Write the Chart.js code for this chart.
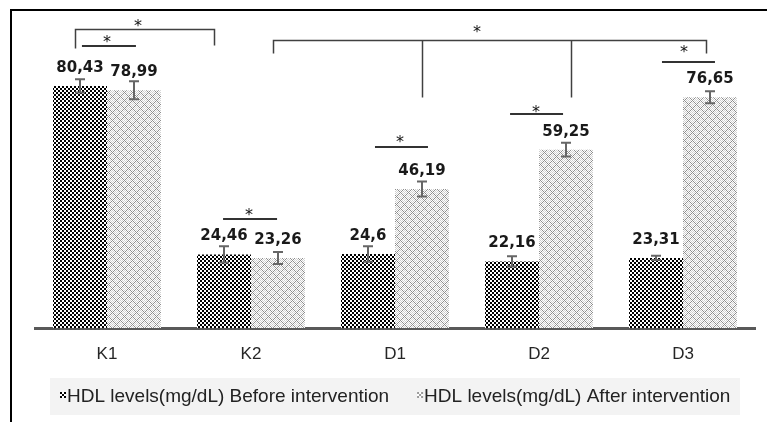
<!DOCTYPE html>
<html>
<head>
<meta charset="utf-8">
<script src="https://cdn.jsdelivr.net/npm/chart.js@4"></script>
<style>
  html, body { margin: 0; padding: 0; background: #fff; }
  #chart { display: block; }
</style>
</head>
<body>
<canvas id="chart" width="767" height="422"></canvas>
<script>
const categories = ['K1', 'K2', 'D1', 'D2', 'D3'];
const seriesNames = ['HDL levels(mg/dL) Before intervention', 'HDL levels(mg/dL) After intervention'];
const beforeValues = [80.43, 24.46, 24.6, 22.16, 23.31];
const afterValues = [78.99, 23.26, 46.19, 59.25, 76.65];
const beforeErrors = [2.2, 2.7, 2.6, 1.7, 0.7];
const afterErrors = [3.0, 2.0, 2.5, 2.3, 2.0];

// significance marks, x in category units, y in mg/dL
const sigBrackets = [
  [[-0.222, 93.0], [-0.222, 99.3], [0.743, 99.3], [0.743, 94.0]],
  [[1.153, 91.4], [1.153, 95.7], [4.16, 95.7], [4.16, 91.4]],
  [[2.19, 95.7], [2.19, 76.7]],
  [[3.222, 95.7], [3.222, 76.7]]
];
const sigLines = [
  [-0.174, 0.201, 93.7],
  [0.806, 1.181, 36.2],
  [1.861, 2.229, 60.1],
  [2.799, 3.167, 71.1],
  [3.854, 4.222, 88.4]
];
const sigStars = [
  [0.215, 101.7], [0.0, 96.3], [0.986, 38.9], [2.035, 63.1],
  [2.979, 73.1], [2.57, 99.7], [4.007, 93.0]
];

function makeChecker() {
  const c = document.createElement('canvas');
  c.width = 4; c.height = 4;
  const g = c.getContext('2d');
  g.fillStyle = '#fff';
  g.fillRect(0, 0, 4, 4);
  g.fillStyle = '#000';
  g.fillRect(0, 0, 2, 2);
  g.fillRect(2, 2, 2, 2);
  return c;
}

function makeHatch() {
  const c = document.createElement('canvas');
  c.width = 8; c.height = 8;
  const g = c.getContext('2d');
  for (let x = 0; x < 8; x++) {
    for (let y = 0; y < 8; y++) {
      const d1 = (x + y) % 8, d2 = (x - y + 8) % 8;
      if (d1 === 0 || d2 === 0) g.fillStyle = '#8f8f8f';
      else if ((x + y) % 2 === 0) g.fillStyle = '#d0d0d0';
      else g.fillStyle = '#ffffff';
      g.fillRect(x, y, 1, 1);
    }
  }
  return c;
}

const ctx = document.getElementById('chart').getContext('2d');
const checkerPattern = ctx.createPattern(makeChecker(), 'repeat');
const hatchPattern = ctx.createPattern(makeHatch(), 'repeat');
const errors = [beforeErrors, afterErrors];

function fmt(v) {
  return String(v).replace('.', ',');
}

function xAt(scale, v) {
  const p0 = scale.getPixelForValue(0);
  const p1 = scale.getPixelForValue(1);
  return p0 + (p1 - p0) * v;
}

const decorPlugin = {
  id: 'decor',
  beforeDraw(chart) {
    const c = chart.ctx;
    c.save();
    c.fillStyle = '#fff';
    c.fillRect(0, 0, chart.width, chart.height);
    // frame
    c.strokeStyle = '#000';
    c.lineWidth = 2;
    c.beginPath();
    c.moveTo(11, chart.height);
    c.lineTo(11, 10);
    c.lineTo(chart.width, 10);
    c.stroke();

    // legend
    c.fillStyle = '#f3f3f3';
    c.fillRect(50, 378, 690, 37);
    c.font = '19px "Liberation Sans", Arial, sans-serif';
    c.textBaseline = 'alphabetic';
    let x = 60;
    const iconColors = ['#000', '#9a9a9a'];
    seriesNames.forEach((name, i) => {
      c.fillStyle = '#fff';
      c.fillRect(x, 392, 6, 6);
      c.fillStyle = iconColors[i];
      c.fillRect(x, 392, 2, 2); c.fillRect(x + 4, 392, 2, 2);
      c.fillRect(x + 2, 394, 2, 2);
      c.fillRect(x, 396, 2, 2); c.fillRect(x + 4, 396, 2, 2);
      c.fillStyle = '#222';
      c.fillText(name, x + 7, 402);
      x += 7 + c.measureText(name).width + 28;
    });
    c.restore();
  },
  afterDatasetsDraw(chart) {
    const c = chart.ctx;
    const xs = chart.scales.x;
    const ys = chart.scales.y;
    c.save();

    // error bars
    c.strokeStyle = '#666';
    c.lineWidth = 2;
    chart.data.datasets.forEach((ds, di) => {
      chart.getDatasetMeta(di).data.forEach((bar, i) => {
        const v = ds.data[i], e = errors[di][i];
        const yt = ys.getPixelForValue(v + e);
        const yb = ys.getPixelForValue(v - e);
        c.beginPath();
        c.moveTo(bar.x, yt); c.lineTo(bar.x, yb);
        c.moveTo(bar.x - 5, yt); c.lineTo(bar.x + 5, yt);
        c.moveTo(bar.x - 5, yb); c.lineTo(bar.x + 5, yb);
        c.stroke();
      });
    });

    // value labels
    c.fillStyle = '#1a1a1a';
    c.font = 'bold 15px "DejaVu Sans", Verdana, sans-serif';
    c.textAlign = 'center';
    c.textBaseline = 'alphabetic';
    chart.data.datasets.forEach((ds, di) => {
      chart.getDatasetMeta(di).data.forEach((bar, i) => {
        c.fillText(fmt(ds.data[i]), bar.x, bar.y - 14);
      });
    });

    // significance brackets
    c.strokeStyle = '#404040';
    c.lineWidth = 1.5;
    sigBrackets.forEach(path => {
      c.beginPath();
      path.forEach(([px, py], k) => {
        const X = Math.round(xAt(xs, px)) + 0.5;
        const Y = Math.round(ys.getPixelForValue(py)) + 0.5;
        if (k === 0) c.moveTo(X, Y); else c.lineTo(X, Y);
      });
      c.stroke();
    });
    c.strokeStyle = '#333';
    c.lineWidth = 2;
    sigLines.forEach(([a, b, v]) => {
      const Y = Math.round(ys.getPixelForValue(v));
      c.beginPath();
      c.moveTo(xAt(xs, a), Y);
      c.lineTo(xAt(xs, b), Y);
      c.stroke();
    });
    c.fillStyle = '#111';
    c.font = '16px "DejaVu Sans", sans-serif';
    sigStars.forEach(([px, py]) => {
      c.fillText('*', xAt(xs, px), ys.getPixelForValue(py) + 9);
    });
    c.restore();
  }
};

new Chart(ctx, {
  type: 'bar',
  data: {
    labels: categories,
    datasets: [
      {
        label: seriesNames[0],
        data: beforeValues,
        backgroundColor: checkerPattern,
        borderWidth: 0,
        categoryPercentage: 0.75,
        barPercentage: 1.0
      },
      {
        label: seriesNames[1],
        data: afterValues,
        backgroundColor: hatchPattern,
        borderWidth: 0,
        categoryPercentage: 0.75,
        barPercentage: 1.0
      }
    ]
  },
  options: {
    responsive: false,
    animation: false,
    events: [],
    layout: { padding: { left: 35, right: 12, top: 27, bottom: 41.5 } },
    scales: {
      x: {
        grid: { display: false, drawTicks: false },
        border: { display: true, color: '#595959', width: 3 },
        ticks: {
          color: '#262626',
          padding: 16,
          font: { family: '"Liberation Sans", Arial, sans-serif', size: 17 }
        }
      },
      y: { display: false, min: 0, max: 100 }
    },
    plugins: {
      legend: { display: false },
      tooltip: { enabled: false }
    }
  },
  plugins: [decorPlugin]
});
</script>
</body>
</html>
